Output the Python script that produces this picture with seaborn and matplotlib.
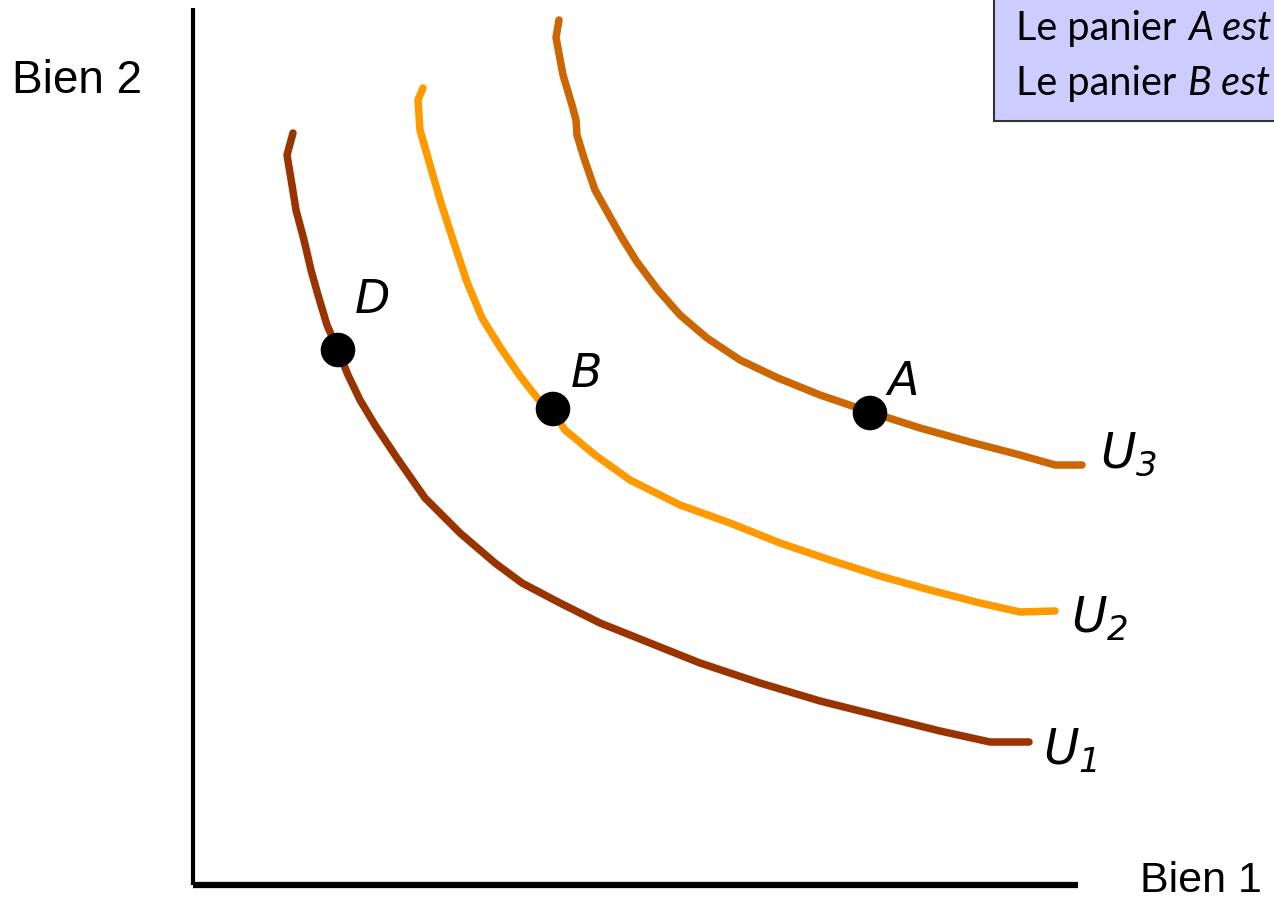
import matplotlib
matplotlib.use("Agg")
import matplotlib.pyplot as plt
import seaborn as sns
import pandas as pd

sns.set_theme(style="white")
plt.rcParams['font.family'] = ['DejaVu Sans']
plt.rcParams['text.color'] = 'black'
plt.rcParams['mathtext.fontset'] = 'custom'
plt.rcParams['mathtext.it'] = 'DejaVu Sans:italic'
plt.rcParams['mathtext.rm'] = 'DejaVu Sans:italic'

# Indifference curves, traced in image coordinates (x right, y down)
u1_x = [293, 287, 292, 296, 304, 311, 318, 327, 338, 348, 360, 375, 397, 425, 460, 495, 522, 560, 600, 650, 700, 760, 820, 880, 940, 990, 1029]
u1_y = [133, 155, 185, 210, 240, 270, 295, 325, 350, 375, 400, 425, 458, 498, 533, 563, 583, 603, 623, 643, 663, 683, 701, 716, 731, 742, 742]
u2_x = [423, 418, 420, 430, 441, 454, 467, 482, 500, 520, 542, 553, 565, 595, 630, 680, 730, 780, 830, 880, 930, 980, 1020, 1055]
u2_y = [88, 100, 130, 165, 203, 243, 282, 318, 347, 376, 404, 412, 430, 455, 480, 505, 523, 543, 560, 576, 590, 603, 612, 611]
u3_x = [559, 556, 556, 563, 572, 576, 577, 584, 595, 609, 622, 637, 658, 680, 707, 740, 778, 820, 870, 920, 970, 1020, 1055, 1082]
u3_y = [20, 30, 45, 75, 105, 120, 135, 158, 190, 215, 238, 262, 290, 315, 338, 360, 378, 395, 412, 428, 442, 455, 465, 465]

curve_subs = ["1", "2", "3"]
curve_colors = ["#993300", "#FF9900", "#CC6600"]

point_names = ["D", "B", "A"]
point_x = [338, 553, 870]
point_y = [350, 409, 413]

box_lines_regular = ["Le panier", "Le panier"]
box_lines_italic = ["A est préféré au panier B", "B est préféré au panier D"]

fig = plt.figure(figsize=(12.74, 8.98), dpi=100)
ax = fig.add_axes([0, 0, 1, 1])

# axes of the diagram
ax.plot([193, 193], [8, 885], color="black", lw=3, solid_capstyle="butt")
ax.plot([193, 1078], [885, 885], color="black", lw=4.5, solid_capstyle="butt")

curves = [(u1_x, u1_y), (u2_x, u2_y), (u3_x, u3_y)]
for (cx, cy), col in zip(curves, curve_colors):
    df = pd.DataFrame({"x": cx, "y": cy})
    sns.lineplot(data=df, x="x", y="y", sort=False, color=col, lw=5.4,
                 ax=ax, solid_capstyle="round", solid_joinstyle="round")

sns.scatterplot(x=point_x, y=point_y, color="black", s=620, ax=ax,
                edgecolor="none", zorder=5)

ax.set_xlim(0, 1274)
ax.set_ylim(898, 0)
ax.axis("off")

lab_font = dict(family="DejaVu Sans", style="italic", color="black")
# point labels
lab_pos = [(355, 313), (571, 387), (887, 395)]
for name, (lx, ly) in zip(point_names, lab_pos):
    ax.text(lx, ly, name, fontsize=33, va="baseline", ha="left", **lab_font)

# curve labels
u_pos = [(1043, 765), (1071, 633), (1100, 468)]
for (ux, uy), sub in zip(u_pos, curve_subs):
    ax.text(ux, uy, r"$U_{%s}$" % sub, fontsize=35, va="baseline", ha="left", color="black")

# axis titles
ax.text(12, 93, "Bien 2", fontsize=33, family="Liberation Sans", va="baseline", ha="left", color="black")
ax.text(1140, 892, "Bien 1", fontsize=31, family="Liberation Sans", va="baseline", ha="left", color="black")

# info box
ax.add_patch(plt.Rectangle((994, -5), 400, 126, facecolor="#CCCCFF",
                           edgecolor="#333333", lw=1.5, zorder=6))
fig.canvas.draw()
renderer = fig.canvas.get_renderer()
for i, (reg, ita) in enumerate(zip(box_lines_regular, box_lines_italic)):
    yb = 40 + i * 55
    t = ax.text(1016, yb, reg, fontsize=28.5, family="Lato", va="baseline",
                ha="left", zorder=7, color="black")
    bb = t.get_window_extent(renderer)
    x_end = ax.transData.inverted().transform((bb.x1, bb.y0))[0]
    ax.text(x_end + 12, yb, ita, fontsize=28.5, family="Lato", style="italic",
            va="baseline", ha="left", zorder=7, color="black")

fig.savefig("out.png", dpi=100)
